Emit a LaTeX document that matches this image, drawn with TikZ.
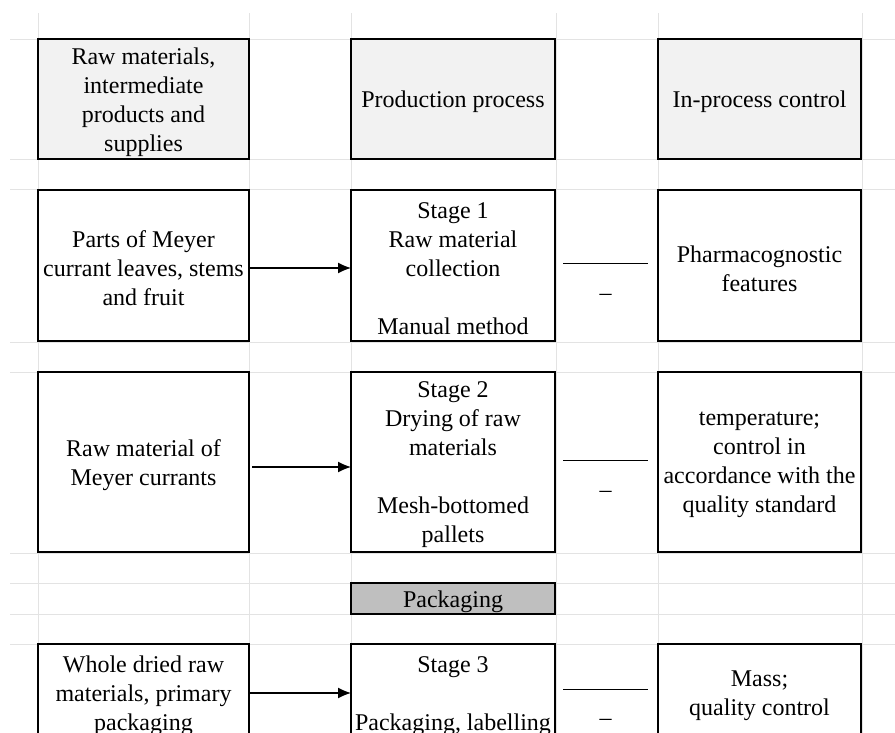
\documentclass[tikz,border=0pt]{standalone}
\usepackage{fontspec}
\setmainfont{Liberation Serif}
\usetikzlibrary{arrows.meta}
\definecolor{gridc}{HTML}{E3E3E3}
\definecolor{headc}{HTML}{F2F2F2}
\definecolor{packc}{HTML}{BFBFBF}
\begin{document}
\begin{tikzpicture}[x=1pt,y=-1pt,
  every node/.style={font=\fontsize{24}{29}\selectfont, align=center, inner sep=0pt, outer sep=0pt},
  cell/.style={draw=black, line width=2pt, fill=white},
  head/.style={cell, fill=headc},
  txt/.style={label={[yshift=-3pt]center:{#1}}},
  gridline/.style={draw=gridc, line width=1pt},
  flow/.style={draw=black, line width=1.3pt, -{Latex[length=13pt,width=11pt]}},
  sep/.style={draw=black, line width=1pt}]
\useasboundingbox (0,0) rectangle (895,733);
\clip (0,0) rectangle (895,733);
% grid
\foreach \gx in {38,249,351,556,658,862} \draw[gridline] (\gx,13) -- (\gx,733);
\foreach \gy in {40,160,190,342,372,553,583,614,644} \draw[gridline] (10,\gy) -- (895,\gy);
% header
\node[head, minimum width=211pt, minimum height=120pt, txt={Raw materials,\\intermediate\\products and\\supplies}] (h1) at (143.5,99) {};
\node[head, minimum width=204pt, minimum height=120pt, txt={Production process}] (h2) at (453,99) {};
\node[head, minimum width=203pt, minimum height=120pt, txt={In-process control}] (h3) at (759.5,99) {};
% row 1
\node[cell, minimum width=211pt, minimum height=151pt, txt={Parts of Meyer\\currant leaves, stems\\and fruit}] (l1) at (143.5,265.5) {};
\node[cell, minimum width=204pt, minimum height=151pt, txt={Stage 1\\Raw material\\collection\\[29pt]Manual method}] (m1) at (453,265.5) {};
\node[cell, minimum width=203pt, minimum height=151pt, txt={Pharmacognostic\\features}] (r1) at (759.5,265.5) {};
% row 2
\node[cell, minimum width=211pt, minimum height=180pt, txt={Raw material of\\Meyer currants}] (l2) at (143.5,462) {};
\node[cell, minimum width=204pt, minimum height=180pt, txt={Stage 2\\Drying of raw\\materials\\[29pt]Mesh-bottomed\\pallets}] (m2) at (453,462) {};
\node[cell, minimum width=203pt, minimum height=180pt, txt={temperature;\\control in\\accordance with the\\quality standard}] (r2) at (759.5,462) {};
% packaging
\node[cell, fill=packc, minimum width=204pt, minimum height=31pt, txt={Packaging}] (pk) at (453,598.5) {};
% row 3
\node[cell, minimum width=211pt, minimum height=98pt, txt={Whole dried raw\\materials, primary\\packaging}] (l3) at (143.5,693) {};
\node[cell, minimum width=204pt, minimum height=98pt, txt={Stage 3\\[29pt]Packaging, labelling}] (m3) at (453,693) {};
\node[cell, minimum width=203pt, minimum height=98pt, txt={Mass;\\quality control}] (r3) at (759.5,693) {};
% arrows
\draw[flow] ([yshift=-2.5pt]l1.east) -- ([yshift=-2.5pt]m1.west);
\draw[flow] ([xshift=3pt,yshift=-5pt]l2.east) -- ([yshift=-5pt]m2.west);
\draw[flow] (l3.east) -- (m3.west);
% separators
\coordinate (s1a) at (563,263); \coordinate (s1b) at (648,263);
\draw[sep] (s1a) -- (s1b);
\node (d1) at (605.5,297) {–};
\coordinate (s2a) at (563,460); \coordinate (s2b) at (648,460);
\draw[sep] (s2a) -- (s2b);
\node (d2) at (605.5,494) {–};
\coordinate (s3a) at (563,689); \coordinate (s3b) at (648,689);
\draw[sep] (s3a) -- (s3b);
\node (d3) at (605.5,722) {–};
\end{tikzpicture}
\end{document}
